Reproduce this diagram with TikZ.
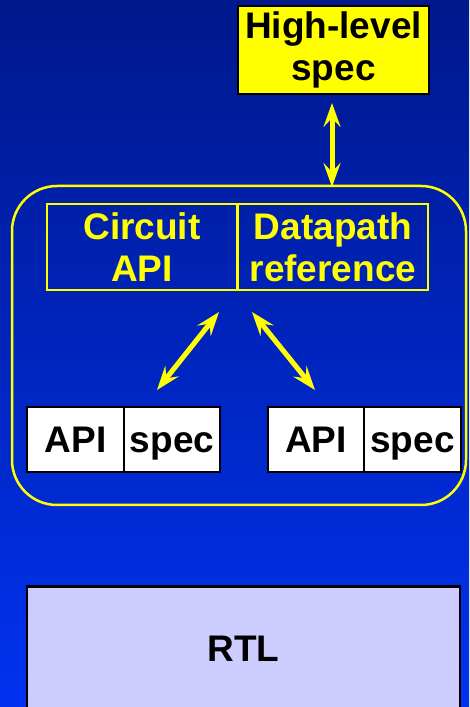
\documentclass[tikz,border=0pt]{standalone}
\usepackage{fontspec}
\setmainfont{Liberation Sans}
\usetikzlibrary{arrows.meta}
\definecolor{bgtop}{RGB}{0,24,140}
\definecolor{bgbot}{RGB}{0,50,240}
\definecolor{ylw}{RGB}{255,255,0}
\definecolor{lav}{RGB}{204,204,255}
\tikzset{
  lbl/.style={font=\fontsize{37}{42}\selectfont\bfseries, align=center, inner sep=0pt},
  ybox/.style={lbl, draw=ylw, line width=2.5pt, text=ylw},
  oneline/.style={text height=27pt, text depth=0pt},
  wbox/.style={lbl, oneline, draw=black, line width=2.5pt, fill=white, text=black, minimum height=65pt},
  hlbox/.style={lbl, draw=black, line width=2.5pt, fill=ylw, text=black},
  twoway/.style={draw=ylw, line width=5pt,
    {Stealth[length=24pt,width=17pt,inset=9pt]}-{Stealth[length=24pt,width=17pt,inset=9pt]}},
}
\begin{document}
\begin{tikzpicture}[x=1pt,y=1pt]
  \useasboundingbox (0,0) rectangle (469,707);
  % backdrop
  \shade[top color=bgtop, bottom color=bgbot] (0,0) rectangle (469,707);

  % top-level specification
  \node[hlbox, minimum width=191pt, minimum height=88pt] (hl) at (333.5,657) {High-level\\spec};

  % container of the library model
  \draw[ylw, line width=2.5pt, rounded corners=45pt] (12,521) rectangle (466,202);
  \node[ybox, minimum width=190pt, minimum height=86pt] (circ) at (142,460) {Circuit\\API};
  \node[ybox, minimum width=190pt, minimum height=86pt] (dref) at (333,460) {Datapath\\reference};

  % API / spec pairs
  \node[wbox, minimum width=97pt] (api1) at (75.5,267.5) {API};
  \node[wbox, minimum width=96pt] (spec1) at (172,267.5) {spec};
  \node[wbox, minimum width=96pt] (api2) at (316,267.5) {API};
  \node[wbox, minimum width=97pt] (spec2) at (412.5,267.5) {spec};

  % RTL
  \node[lbl, oneline, draw=black, line width=2.5pt, fill=lav, minimum width=433pt, minimum height=124pt] (rtl) at (243.5,58.5) {RTL};

  % connector end points
  \coordinate (hlEnd) at (332,604);
  \coordinate (boxTop) at (332,520);
  \coordinate (mL) at (219,395);
  \coordinate (mR) at (252,395);
  \coordinate (pL) at (157,317);
  \coordinate (pR) at (315,317);

  \draw[twoway] (hlEnd) -- (boxTop);
  \draw[twoway] (mL) -- (pL);
  \draw[twoway] (mR) -- (pR);
\end{tikzpicture}
\end{document}
